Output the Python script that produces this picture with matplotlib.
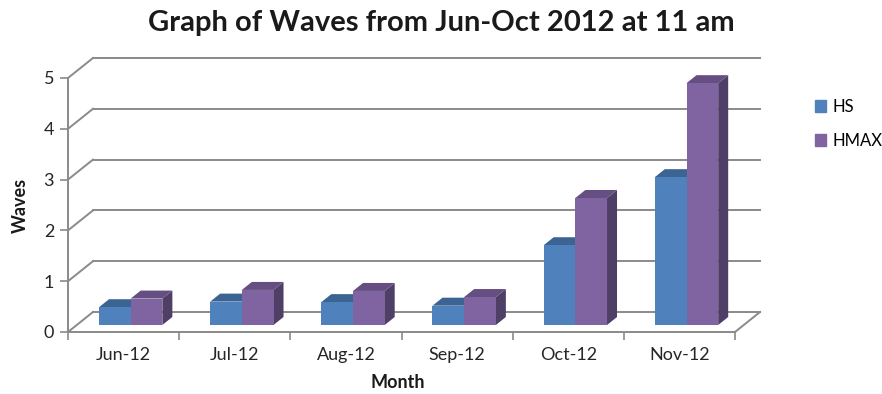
import numpy as np
import matplotlib
matplotlib.use('Agg')
import matplotlib.pyplot as plt
from matplotlib.patches import Polygon, Patch

plt.rcParams['font.family'] = ['Lato', 'DejaVu Sans']

months = ['Jun-12', 'Jul-12', 'Aug-12', 'Sep-12', 'Oct-12', 'Nov-12']
hs = [0.35, 0.46, 0.45, 0.38, 1.57, 2.91]
hmax = [0.52, 0.69, 0.67, 0.55, 2.50, 4.76]
y_ticks = [0, 1, 2, 3, 4, 5]

# colours: front, top, side
hs_col = ('#4f81bd', '#3b6493', '#385d8a')
hmax_col = ('#8064a2', '#654f82', '#4f3e66')
grid_col = '#8a8a8a'

# fake 3d depth (data units)
ddx, ddy = 0.225, 0.394
f0, f1 = 0.35, 0.75
bar_w = 0.285

fig = plt.figure(figsize=(8.82, 3.94), dpi=100)
ax = fig.add_axes([68/882, 62/394, 667/882, 254/394])
ax.set_xlim(0, len(months))
ax.set_ylim(0, 5)

# walls
for y in y_ticks:
    ax.plot([0, ddx], [y, y + ddy], color=grid_col, lw=1.4, clip_on=False, zorder=1)
    ax.plot([ddx, len(months) + ddx], [y + ddy, y + ddy], color=grid_col, lw=1.4,
            clip_on=False, zorder=1)
ax.plot([len(months), len(months) + ddx], [0, ddy], color=grid_col, lw=1.4,
        clip_on=False, zorder=1)


def draw_bar(x, v, cols, z):
    x0 = x + f0 * ddx
    b = f0 * ddy
    sx = (f1 - f0) * ddx
    sy = (f1 - f0) * ddy
    side = Polygon([(x0 + bar_w, b), (x0 + bar_w, b + v), (x0 + bar_w + sx, b + v + sy),
                    (x0 + bar_w + sx, b + sy)], closed=True, fc=cols[2], ec='none',
                   clip_on=False, zorder=z)
    top = Polygon([(x0, b + v), (x0 + bar_w, b + v), (x0 + bar_w + sx, b + v + sy),
                   (x0 + sx, b + v + sy)], closed=True, fc=cols[1], ec='none',
                  clip_on=False, zorder=z)
    ax.add_patch(side)
    ax.add_patch(top)
    ax.bar(x0, v, bar_w, bottom=b, align='edge', color=cols[0], clip_on=False, zorder=z)


for i in range(len(months)):
    draw_bar(i + 0.2, hs[i], hs_col, 3 + 2 * i)
    draw_bar(i + 0.2 + bar_w, hmax[i], hmax_col, 4 + 2 * i)

for s in ['top', 'right']:
    ax.spines[s].set_visible(False)
for s in ['left', 'bottom']:
    ax.spines[s].set_color(grid_col)
    ax.spines[s].set_linewidth(1.4)
    ax.spines[s].set_zorder(2)

ax.set_yticks(y_ticks)
ax.set_yticklabels([str(t) for t in y_ticks], fontsize=13, color='#262626')
ax.tick_params(axis='y', length=6, color=grid_col, width=1.2, pad=4)
ax.set_xticks(np.arange(len(months) + 1))
ax.set_xticklabels([])
ax.set_xticks(np.arange(len(months)) + 0.5, minor=True)
ax.set_xticklabels(months, minor=True, fontsize=13, color='#262626')
ax.tick_params(axis='x', which='major', length=6, color=grid_col, width=1.2)
ax.tick_params(axis='x', which='minor', length=0, pad=11)

ax.set_xlabel('Month', fontsize=13, fontweight='bold', color='#1a1a1a')
ax.set_ylabel('Waves', fontsize=13, fontweight='bold', color='#1a1a1a')
ax.xaxis.set_label_coords(0.495, -0.165)
ax.yaxis.set_label_coords(-0.058, 0.5)

fig.text(0.5, 0.942, 'Graph of Waves from Jun-Oct 2012 at 11 am', ha='center', va='center',
         fontsize=21, fontweight='bold', color='#1a1a1a')

handles = [Patch(color=hs_col[0], label='HS'), Patch(color=hmax_col[0], label='HMAX')]
fig.legend(handles=handles, loc='upper left', bbox_to_anchor=(808/882, 1 - 92/394),
           frameon=False, fontsize=12, handlelength=0.7, handleheight=0.7,
           handletextpad=0.4, labelspacing=1.1, borderaxespad=0)

fig.savefig('out.png', dpi=100)
